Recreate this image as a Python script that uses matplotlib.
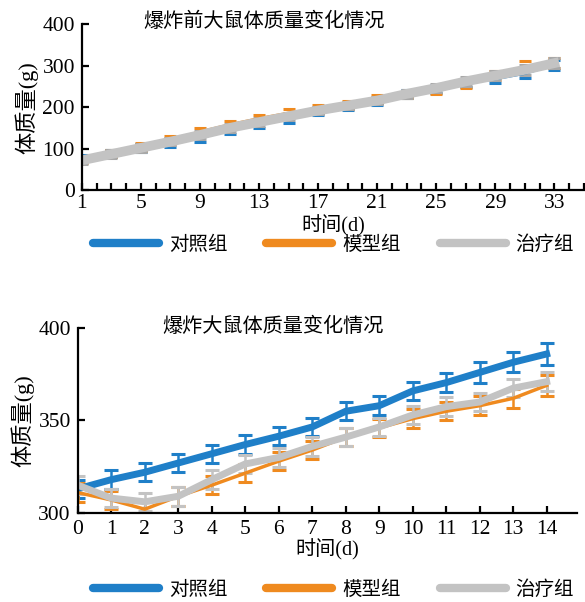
import numpy as np
import matplotlib.pyplot as plt
from matplotlib.lines import Line2D

plt.rcParams['font.family'] = ['Liberation Serif', 'Noto Sans CJK SC']

groups = ['对照组', '模型组', '治疗组']
colors = ['#1f7fc8', '#ef8a1f', '#c3c3c3']

# before explosion, every 2 days
days_pre = [1, 3, 5, 7, 9, 11, 13, 15, 17, 19, 21, 23, 25, 27, 29, 31, 33]
ctrl_pre = [76, 89, 102, 113, 126, 144, 158, 172, 190, 202, 214, 232, 244, 258, 268, 281, 302]
model_pre = [74, 88, 104, 121, 141, 158, 173, 186, 195, 205, 220, 230, 242, 256, 276, 298, 306]
treat_pre = [72, 87, 102, 117, 133, 150, 164, 178, 192, 204, 216, 232, 246, 262, 276, 290, 306]
err_pre = [9, 9, 9, 9, 9, 9, 9, 9, 9, 9, 9, 9, 10, 10, 11, 12, 12]

# after explosion
days_post = list(range(15))
ctrl_post = [313, 318, 322, 327, 332, 337, 341.5, 346.5, 355, 358, 366, 370.5, 376, 381.5, 386]
model_post = [311, 307, 302, 309, 315, 321.5, 328, 334, 341, 346, 351, 355, 358, 362, 369]
treat_post = [315, 308, 306, 309, 318, 326.5, 330, 336, 341, 346.5, 353, 357.5, 360, 367.5, 371]
err_ctrl = [5, 5, 5, 5, 5, 5, 5, 5, 5, 5, 5, 5, 5.5, 5.5, 6]
err_model = [5, 5, 5, 5, 5, 5, 5, 5, 5, 5, 5, 5, 5, 5, 5.5]
err_treat = [5, 5, 5, 5, 5, 5, 5, 5, 5, 5, 5, 5, 5, 5, 5]

fig = plt.figure(figsize=(5.85, 6.02), dpi=100)


def style_axes(ax, xpad):
    for s in ['top', 'right']:
        ax.spines[s].set_visible(False)
    for s in ['left', 'bottom']:
        ax.spines[s].set_linewidth(1.6)
    ax.tick_params(direction='in', width=1.6, length=5, labelsize=15.5)
    ax.tick_params(which='minor', direction='in', width=1.6, length=5)
    ax.tick_params(axis='x', pad=xpad)
    ax.tick_params(axis='y', pad=5)


# top chart
ax1 = fig.add_axes([0.140, 0.684, 0.858, 0.276])
ax1.errorbar(days_pre, ctrl_pre, yerr=err_pre, color=colors[0], lw=2,
             elinewidth=0, capsize=4, capthick=2.2)
ax1.errorbar(days_pre, model_pre, yerr=err_pre, color=colors[1], lw=2,
             elinewidth=0, capsize=4, capthick=2.2)
ax1.errorbar(days_pre, treat_pre, yerr=err_pre, color=colors[2], lw=7,
             elinewidth=0, capsize=4, capthick=2.2, ecolor='#a8a8a8')
ax1.set_xlim(1, 35)
ax1.set_ylim(0, 400)
ax1.set_xticks(range(1, 34, 4))
ax1.set_xticks(range(1, 36), minor=True)
ax1.set_yticks([0, 100, 200, 300, 400])
style_axes(ax1, 3)
ax1.set_xlabel('时间(d)', fontsize=14.5, labelpad=1)
ax1.set_ylabel('体质量(g)', fontsize=16, labelpad=3)

# bottom chart
ax2 = fig.add_axes([0.133, 0.148, 0.853, 0.307])
ax2.errorbar(days_post, ctrl_post, yerr=err_ctrl, color=colors[0], lw=5,
             elinewidth=1.8, capsize=5, capthick=2.2)
ax2.errorbar(days_post, model_post, yerr=err_model, color=colors[1], lw=2.5,
             elinewidth=1.8, capsize=5, capthick=2.2)
ax2.errorbar(days_post, treat_post, yerr=err_treat, color=colors[2], lw=5,
             elinewidth=1.8, capsize=5, capthick=2.2)
ax2.set_xlim(0, 14.9)
ax2.set_ylim(300, 400)
ax2.set_xticks(days_post)
ax2.set_yticks([300, 350, 400])
style_axes(ax2, 5)
ax2.set_xlabel('时间(d)', fontsize=14.5, labelpad=0)
ax2.set_ylabel('体质量(g)', fontsize=16, labelpad=3)

fig.text(0.451, 1 - 22 / 602, '爆炸前大鼠体质量变化情况', ha='center', va='center', fontsize=14.5)
fig.text(0.467, 1 - 327 / 602, '爆炸大鼠体质量变化情况', ha='center', va='center', fontsize=14.5)

handles = [Line2D([], [], color=c, lw=6, solid_capstyle='round') for c in colors]
for yc in [1 - 245 / 602, 1 - 590 / 602]:
    fig.legend(handles, groups, loc='center', bbox_to_anchor=(0.57, yc), ncol=3,
               frameon=False, fontsize=14, handlelength=3.4, handletextpad=0.5,
               columnspacing=2.0)

fig.savefig('out.png', dpi=100)
